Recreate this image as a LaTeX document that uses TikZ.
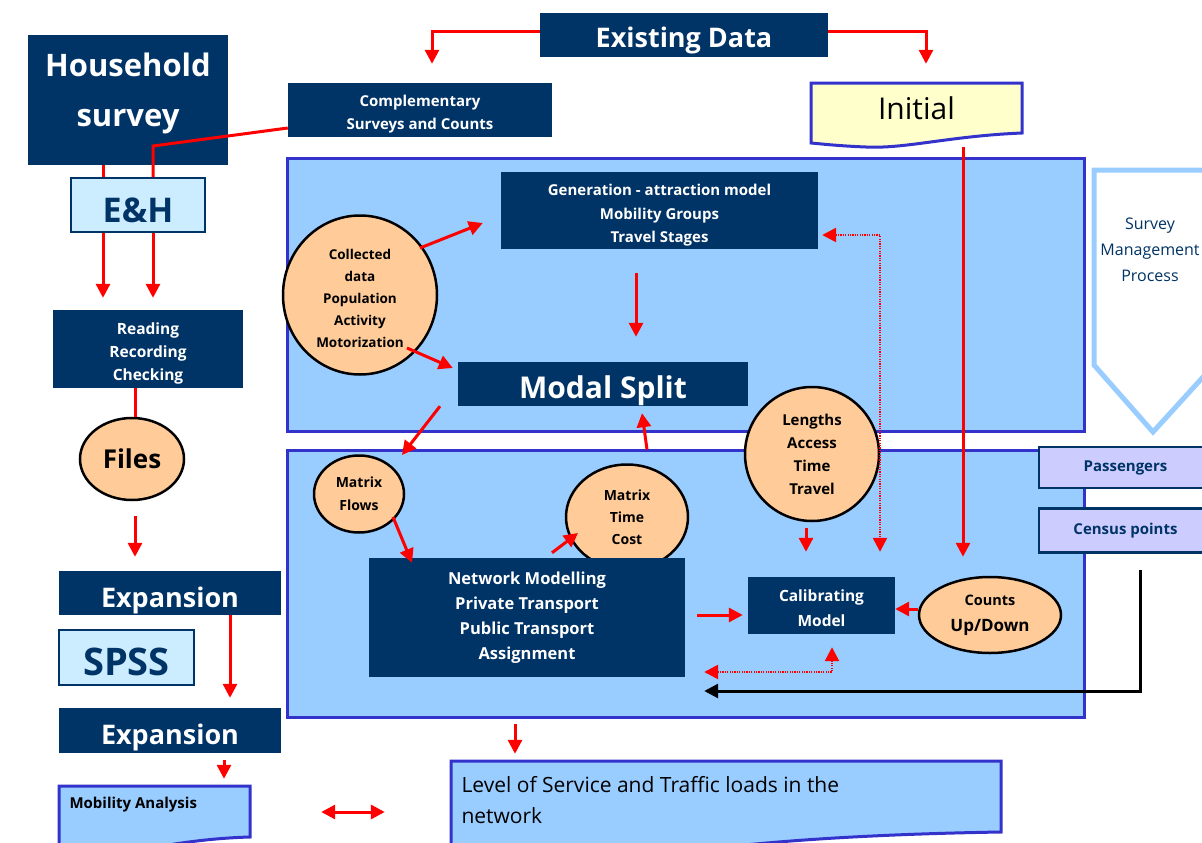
\documentclass[tikz,border=0pt]{standalone}
\usepackage{fontspec}
\setmainfont{Open Sans}
\usetikzlibrary{arrows.meta,calc,shapes.geometric}
\definecolor{navy}{HTML}{003366}
\definecolor{panel}{HTML}{99CCFF}
\definecolor{panelline}{HTML}{3333CC}
\definecolor{peach}{HTML}{FFCC99}
\definecolor{paleblue}{HTML}{CCECFF}
\definecolor{lavender}{HTML}{CCCCFF}
\definecolor{cream}{HTML}{FFFFCC}
\definecolor{arrowred}{HTML}{FF0000}
\newcommand{\fsz}[2]{\fontsize{#1}{#2}\selectfont}
\begin{document}
\begin{tikzpicture}[x=1pt,y=-1pt,
  darkbox/.style={rectangle, fill=navy, inner sep=0pt},
  wtxt/.style={text=white, align=center, inner sep=0pt},
  palebox/.style={rectangle, fill=paleblue, draw=navy, line width=2pt, inner sep=0pt},
  ntxt/.style={text=navy, align=center, inner sep=0pt},
  tagbox/.style={rectangle, fill=lavender, draw=navy, line width=2.5pt, text=navy, inner sep=0pt, font=\fsz{15}{18}\bfseries},
  panelbox/.style={rectangle, fill=panel, draw=panelline, line width=3pt, inner sep=0pt},
  bubble/.style={ellipse, fill=peach, draw=black, line width=2.5pt, inner sep=0pt, align=center},
  btxt/.style={align=center, inner sep=0pt},
  docshape/.style={draw=panelline, line width=3pt},
  geom/.style={rectangle, inner sep=0pt},
  arr/.style={draw=arrowred, line width=3pt, -{Triangle[length=14pt,width=14pt]}},
  dotarr/.style={draw=arrowred, line width=2.5pt, dash pattern=on 1.2pt off 1.2pt,
    {Triangle[length=14pt,width=14pt]}-{Triangle[length=14pt,width=14pt]}},
  redline/.style={draw=arrowred, line width=3pt},
]
\clip (0,0) rectangle (1202,843);

% ---- big model panels ----
\node[panelbox, minimum width=797pt, minimum height=273pt] (upper) at (685.5,294.5) {};
\node[panelbox, minimum width=797pt, minimum height=267pt] (lower) at (685.5,583.5) {};

% ---- survey management chevron ----
\draw[draw=panel, line width=5pt, fill=white]
  (1094,170) -- (1214,170) -- (1214,365) -- (1153,432) -- (1094,365) -- cycle;
\node[text=navy, font=\fsz{16}{26}, align=center] (smp) at (1150,250) {Survey\\Management\\Process};

% ---- left column ----
\node[darkbox, minimum width=200pt, minimum height=130pt] (hh) at (128,100) {};
\node[wtxt, font=\fsz{31}{50}\bfseries] (hhtxt) at ($(hh)+(0,-7)$) {Household\\survey};
\node[palebox, minimum width=134pt, minimum height=54pt] (eh) at (138,205) {};
\node[ntxt, font=\fsz{34}{40}\bfseries] (ehtxt) at ($(eh)+(0,5)$) {E\&H};
\node[darkbox, minimum width=190pt, minimum height=78pt] (read) at (148,349) {};
\node[wtxt, font=\fsz{15.5}{23}\bfseries] (readtxt) at ($(read)+(0,4)$) {Reading\\Recording\\Checking};
\node[bubble, minimum width=104pt, minimum height=82pt, font=\fsz{26}{30}\bfseries] (files) at (132,459) {Files};
\node[darkbox, minimum width=222pt, minimum height=44pt] (exp1) at (170,593) {};
\node[wtxt, font=\fsz{27}{30}\bfseries] (exp1txt) at ($(exp1)+(0,7)$) {Expansion};
\node[palebox, minimum width=135pt, minimum height=55pt] (spss) at (126.5,657.5) {};
\node[ntxt, font=\fsz{38}{40}\bfseries] (spsstxt) at ($(spss)+(0,4)$) {SPSS};
\node[darkbox, minimum width=222pt, minimum height=45pt] (exp2) at (170,730.5) {};
\node[wtxt, font=\fsz{27}{30}\bfseries] (exp2txt) at ($(exp2)+(0,7)$) {Expansion};

% ---- mobility analysis document ----
\draw[docshape, fill=panel] (59,786) -- (250,786) -- (250,837)
  .. controls (215,838) and (185,842) .. (150,848) -- (59,848) -- cycle;
\node[geom, minimum width=191pt, minimum height=52pt] (mob) at (154.5,812) {};
\node[anchor=west, font=\fsz{15}{18}\bfseries] (mobtxt) at (66,805) {Mobility Analysis};

% ---- level of service document ----
\draw[docshape, fill=panel] (451,761) -- (1001,761) -- (1001,832)
  .. controls (880,834) and (780,840) .. (700,850) -- (451,850) -- cycle;
\node[geom, minimum width=550pt, minimum height=102pt] (level) at (726,812) {};
\node[anchor=west, align=left, font=\fsz{21}{31}] (leveltxt) at (458,800)
  {Level of Service and Traffic loads in the\\network};

% ---- top row ----
\node[darkbox, minimum width=288pt, minimum height=44pt] (exist) at (684,35) {};
\node[wtxt, font=\fsz{27}{30}\bfseries] (existtxt) at ($(exist)+(0,5)$) {Existing Data};
\node[darkbox, minimum width=264pt, minimum height=54pt] (comp) at (420,110) {};
\node[wtxt, font=\fsz{15}{23}\bfseries] (comptxt) at ($(comp)+(0,4)$) {Complementary\\Surveys and Counts};
\draw[docshape, fill=cream] (811,83) -- (1022,83) -- (1022,133)
  .. controls (950,136) and (905,149) .. (866,147)
  .. controls (840,146) and (822,144) .. (811,143) -- cycle;
\node[geom, minimum width=211pt, minimum height=64pt] (initial) at (916.5,115) {};
\node[font=\fsz{30}{34}] (inittxt) at (916.5,108) {Initial};

% ---- upper panel content ----
\node[darkbox, minimum width=317pt, minimum height=77pt] (gen) at (659.5,210.5) {};
\node[wtxt, font=\fsz{15}{23.5}\bfseries] (gentxt) at ($(gen)+(0,5)$)
  {Generation - attraction model\\Mobility Groups\\Travel Stages};
\node[bubble, minimum width=154pt, minimum height=159pt] (coll) at (360,295) {};
\node[btxt, font=\fsz{13.5}{22}\bfseries] (colltxt) at ($(coll)+(0,3)$)
  {Collected\\data\\Population\\Activity\\Motorization};
\node[darkbox, minimum width=290pt, minimum height=44pt] (modal) at (603,384) {};
\node[wtxt, font=\fsz{30}{34}\bfseries] (modaltxt) at ($(modal)+(0,7)$) {Modal Split};

% ---- lower panel content ----
\node[bubble, minimum width=90pt, minimum height=77pt, font=\fsz{14}{23}\bfseries] (mflows) at (359,494) {Matrix\\Flows};
\node[bubble, minimum width=122pt, minimum height=105pt, font=\fsz{14}{22}\bfseries] (mtc) at (627,517) {Matrix\\Time\\Cost};
\node[darkbox, minimum width=316pt, minimum height=119pt] (net) at (527,617.5) {};
\node[wtxt, font=\fsz{16.5}{25}\bfseries] (nettxt) at (net)
  {Network Modelling\\Private Transport\\Public Transport\\Assignment};
\node[darkbox, minimum width=147pt, minimum height=57pt] (calib) at (821.5,605.5) {};
\node[wtxt, font=\fsz{15.5}{25}\bfseries] (calibtxt) at ($(calib)+(0,3)$) {Calibrating\\Model};
\node[bubble, minimum width=134pt, minimum height=134pt, font=\fsz{15}{23}\bfseries] (lengths) at (812,454)
  {Lengths\\Access\\Time\\Travel};
\node[bubble, minimum width=142pt, minimum height=76pt, font=\fsz{14.5}{26}\bfseries] (counts) at (990,615)
  {Counts\\{\fsz{17}{26}Up/Down}};

% ---- count sources ----
\node[tagbox, minimum width=173pt, minimum height=41pt] (pass) at (1125.5,467.5) {Passengers};
\node[tagbox, minimum width=173pt, minimum height=44pt] (census) at (1125.5,530.5) {Census points};

% ---- connectors: left column ----
\draw[redline] ([xshift=-25pt]hh.south) -- ([xshift=-35pt]eh.north);
\draw[redline] ([yshift=-18pt]comp.west) -- (153,146) -- ([xshift=15pt]eh.north);
\draw[arr, shorten >=12pt] ([xshift=-35pt]eh.south) -- ([xshift=-45pt]read.north);
\draw[arr, shorten >=12pt] ([xshift=15pt]eh.south) -- ([xshift=5pt]read.north);
\draw[redline] ([xshift=-13pt]read.south) -- ([xshift=3pt]files.north);
\draw[arr, shorten <=15pt, shorten >=14pt] ([xshift=3pt]files.south) -- ([xshift=-35pt]exp1.north);
\draw[arr, shorten >=10pt] ([xshift=60pt]exp1.south) -- ([xshift=60pt]exp2.north);
\draw[arr, shorten <=7pt, shorten >=7pt] ([xshift=54pt]exp2.south) -- ($(mob.north)+(69.5,0)$);
\draw[draw=arrowred, line width=3pt, {Triangle[length=14pt,width=14pt]}-{Triangle[length=14pt,width=14pt]}]
  ([xshift=71pt]mob.east) -- ([xshift=-66pt]level.west);

% ---- connectors: top ----
\draw[arr] ([yshift=3pt]exist.west) -| ($(comp.north)+(12,-19)$);
\draw[arr] ([yshift=3pt]exist.east) -| ($(initial.north)+(9.5,-19)$);
\draw[arr] ($(initial.south)+(46.5,0)$) -- ($(counts.north)+(-27,-19)$);

% ---- connectors: model ----
\draw[arr] ($(coll)+(60,-47)$) -- ($(gen.west)+(-18,12.5)$);
\draw[arr] ($(coll)+(47,53)$) -- ($(modal.west)+(-5,-16)$);
\draw[arr, shorten <=24pt, shorten >=25pt] ([xshift=-23.5pt]gen.south) -- ([xshift=33pt]modal.north);
\draw[arr] ($(modal.south)+(-163,0)$) -- ($(mflows)+(43,-39)$);
\draw[arr] ($(lower.north)+(-38.5,1)$) -- ($(modal.south)+(39,7)$);
\draw[arr] ($(mflows)+(34,23)$) -- ($(net.north)+(-115,5)$);
\draw[arr] ($(net.north)+(25,-5)$) -- ($(mtc)+(-49,16)$);
\draw[arr] ($(net.east)+(12,-2.5)$) -- ($(calib.west)+(-5,9.5)$);
\draw[arr] ($(lengths.south)+(-6,6)$) -- ($(calib.north)+(-15.5,-25)$);
\draw[arr] ([yshift=6pt]counts.west) -- ([yshift=-3.5pt]calib.east);
\draw[dotarr] ($(gen.east)+(4,24.5)$) -| ($(calib.north)+(58.5,-25)$);
\draw[dotarr] ($(net.east)+(19,54.5)$) -| ($(calib.south)+(10.5,13)$);
\draw[draw=black, line width=3pt, -{Triangle[length=14pt,width=14pt]}]
  ($(census.south)+(14.5,16.5)$) |- ($(net.east)+(19,73.5)$);
\draw[arr, shorten <=5pt, shorten >=7pt] ([xshift=-170.5pt]lower.south) -- ([xshift=-211pt]level.north);
\end{tikzpicture}
\end{document}
